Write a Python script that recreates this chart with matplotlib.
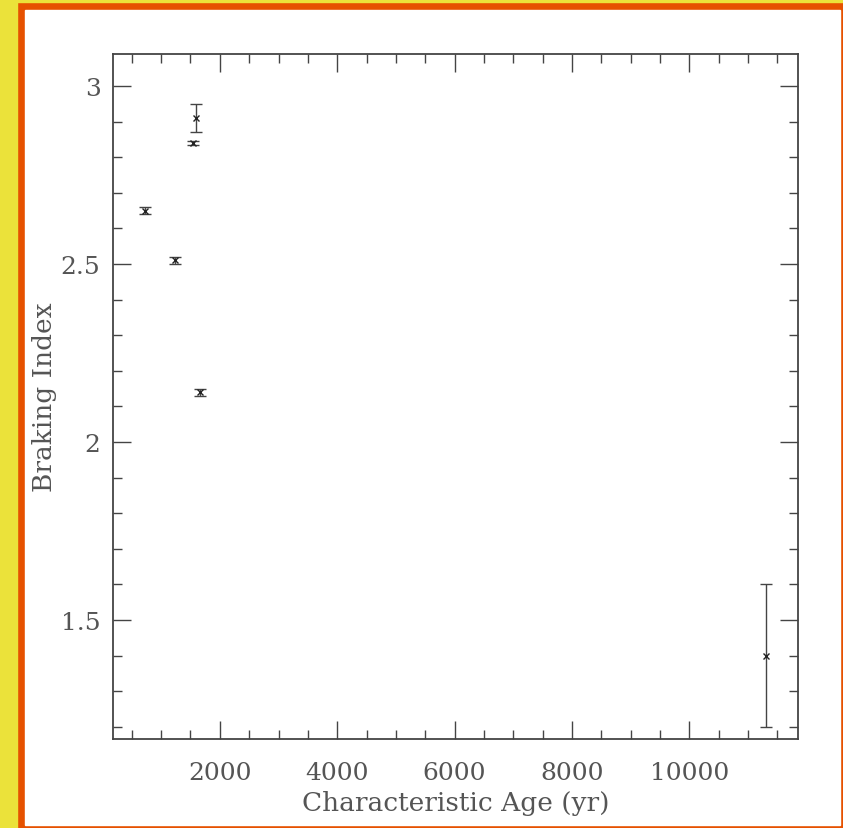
import matplotlib
matplotlib.use("Agg")
import matplotlib.pyplot as plt
from matplotlib.patches import Rectangle
from matplotlib.ticker import MultipleLocator

# characteristic age (yr), braking index, 1-sigma error
age = [1600, 1550, 720, 1240, 1670, 11300]
n_brake = [2.91, 2.84, 2.65, 2.51, 2.14, 1.40]
n_err = [0.04, 0.005, 0.01, 0.01, 0.01, 0.20]

W, H = 843, 829
fig = plt.figure(figsize=(W / 100, H / 100), dpi=100)

# border: yellow strip left/top, orange frame, white inside
def box(x0, y0, x1, y1, color):
    fig.patches.append(Rectangle((x0 / W, 1 - y1 / H), (x1 - x0) / W, (y1 - y0) / H,
                                 transform=fig.transFigure, color=color, zorder=-10))

box(0, 0, W, H, "#e65100")
box(0, 0, 17, H, "#ebe23a")
box(0, 0, W, 3, "#ebe23a")
box(25, 11, 840, 826, "white")

ax = fig.add_axes([113 / W, 1 - 740 / H, (798 - 113) / W, (740 - 55) / H])
ax.set_facecolor("white")

ax.errorbar(age, n_brake, yerr=n_err, fmt="x", color="#222222", ms=5, mew=1.0,
            elinewidth=1.0, ecolor="#444444", capsize=4, capthick=1.0)

ax.set_xlim(180, 11850)
ax.set_ylim(1.166, 3.09)
ax.xaxis.set_major_locator(MultipleLocator(2000))
ax.xaxis.set_minor_locator(MultipleLocator(500))
ax.yaxis.set_major_locator(MultipleLocator(0.5))
ax.yaxis.set_minor_locator(MultipleLocator(0.1))
ax.set_yticks([1.5, 2, 2.5, 3])
ax.set_yticklabels(["1.5", "2", "2.5", "3"])

ax.tick_params(which="both", direction="in", top=True, right=True, color="#444444",
               width=1.0, labelsize=18, labelcolor="#555555")
ax.tick_params(axis="x", pad=16)
ax.tick_params(axis="y", pad=9)
ax.tick_params(which="major", length=13)
ax.tick_params(which="minor", length=6.5)
for lab in ax.get_xticklabels() + ax.get_yticklabels():
    lab.set_family("DejaVu Serif")
for s in ax.spines.values():
    s.set_color("#444444")
    s.set_linewidth(1.3)

ax.set_xlabel("Characteristic Age (yr)", fontsize=19, family="DejaVu Serif",
              color="#555555", labelpad=4)
ax.set_ylabel("Braking Index", fontsize=19, family="DejaVu Serif",
              color="#555555", labelpad=3)

fig.savefig("out.png", dpi=100)
